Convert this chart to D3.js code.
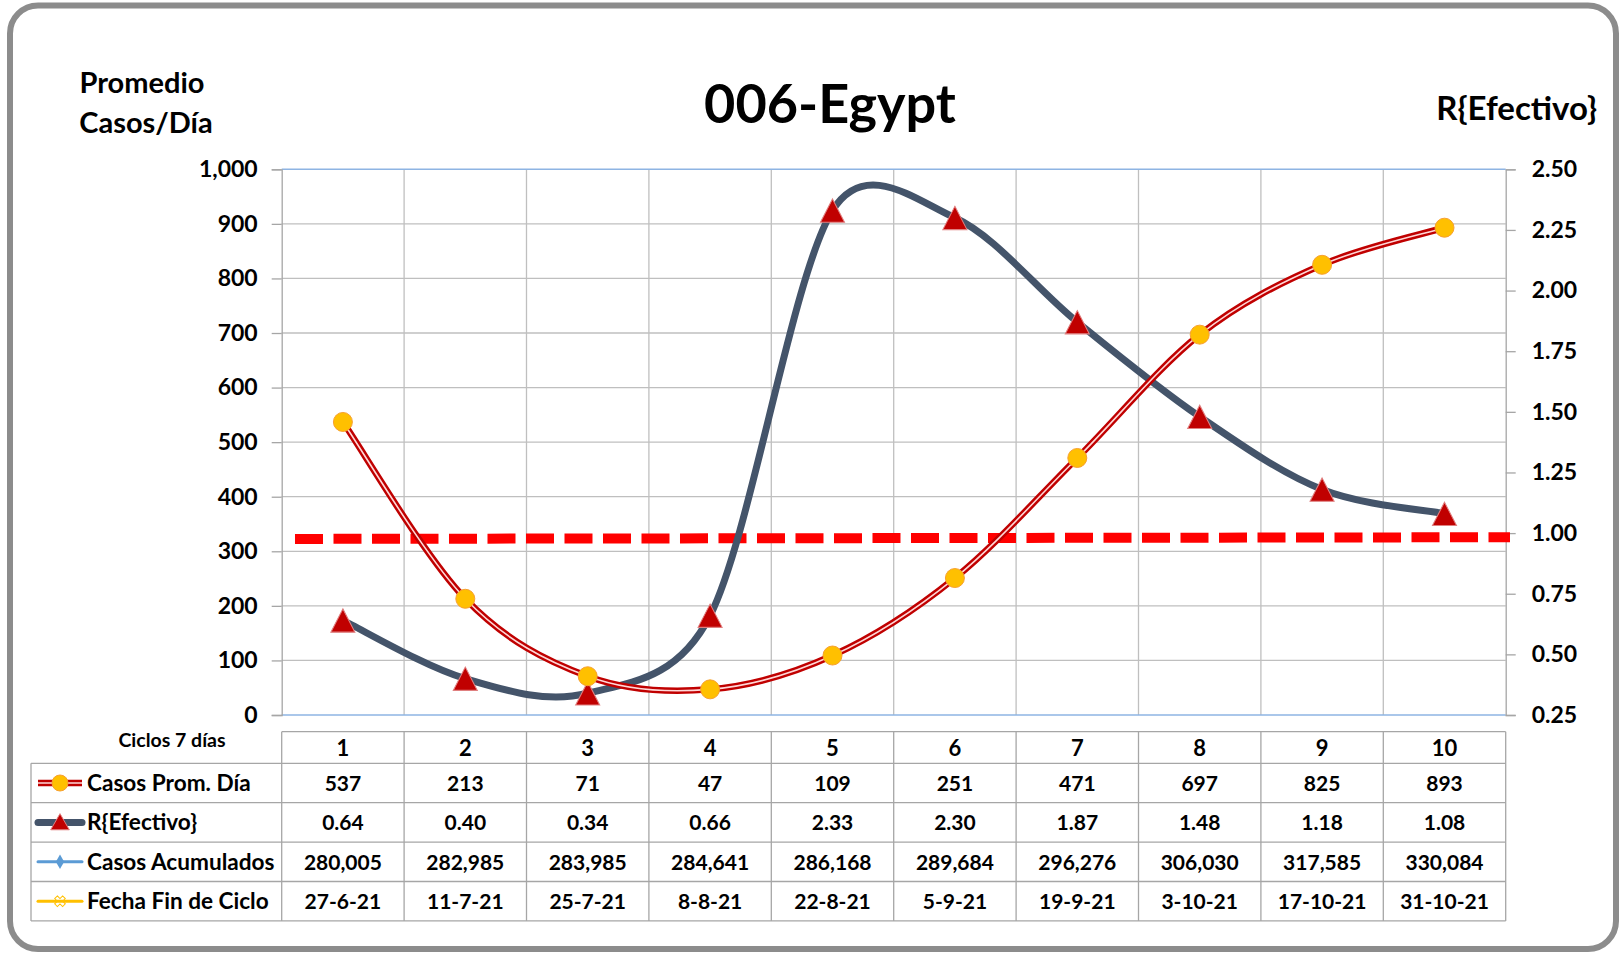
<!DOCTYPE html>
<html>
<head>
<meta charset="utf-8">
<script src="https://cdn.jsdelivr.net/npm/d3@7"></script>
<style>
  body { margin: 0; background: #fff; }
  svg text { font-family: Lato, "Open Sans", sans-serif; font-weight: bold; fill: #000; }
</style>
</head>
<body>
<svg id="chart" width="1619" height="956"></svg>
<script>
// chart values
const ciclos = [1, 2, 3, 4, 5, 6, 7, 8, 9, 10];
const casosProm = [537, 213, 71, 47, 109, 251, 471, 697, 825, 893];
const rEfectivo = [0.64, 0.40, 0.34, 0.66, 2.33, 2.30, 1.87, 1.48, 1.18, 1.08];
const casosAcum = [280005, 282985, 283985, 284641, 286168, 289684, 296276, 306030, 317585, 330084];
const fechaFin = ["27-6-21", "11-7-21", "25-7-21", "8-8-21", "22-8-21", "5-9-21", "19-9-21", "3-10-21", "17-10-21", "31-10-21"];
const leftTicks = [0, 100, 200, 300, 400, 500, 600, 700, 800, 900, 1000];
const rightTicks = [0.25, 0.50, 0.75, 1.00, 1.25, 1.50, 1.75, 2.00, 2.25, 2.50];
const rLimit = [0.976, 0.983]; // dashed R = 1 reference (left end, right end)
const seriesNames = ["Casos Prom. Día", "R{Efectivo}", "Casos Acumulados", "Fecha Fin de Ciclo"];

const svg = d3.select("#chart");

const plot = { left: 281.7, right: 1505.7, top: 169.3, bottom: 715 };

// frame
svg.append("rect")
    .attr("x", 10).attr("y", 5.5)
    .attr("width", 1606).attr("height", 943.5)
    .attr("rx", 28)
    .attr("fill", "#fff")
    .attr("stroke", "#8c8c8c")
    .attr("stroke-width", 6);

const x = d3.scaleBand()
    .domain(ciclos)
    .range([plot.left, plot.right]);
const cx = d => x(d) + x.bandwidth() / 2;

const yL = d3.scaleLinear().domain([0, 1000]).range([plot.bottom, plot.top]);
const yR = d3.scaleLinear().domain([0.25, 2.5]).range([plot.bottom, plot.top]);

// excel style smoothed line (bezier, control arm clamped to half the segment)
function smoothPath(pts) {
    const p = d3.path();
    const dist = (a, b) => Math.hypot(b[0] - a[0], b[1] - a[1]);
    p.moveTo(pts[0][0], pts[0][1]);
    for (let i = 0; i < pts.length - 1; i++) {
        const p0 = pts[i - 1] || pts[i], p1 = pts[i], p2 = pts[i + 1], p3 = pts[i + 2] || pts[i + 1];
        const d02 = dist(p0, p2), d12 = dist(p1, p2), d13 = dist(p1, p3);
        let f1 = 1 / 6, f2 = 1 / 6;
        if (d02 / 6 >= d12 / 2) f1 = d12 / d02 / 2;
        if (d13 / 6 >= d12 / 2) f2 = d12 / d13 / 2;
        p.bezierCurveTo(
            p1[0] + (p2[0] - p0[0]) * f1, p1[1] + (p2[1] - p0[1]) * f1,
            p2[0] - (p3[0] - p1[0]) * f2, p2[1] - (p3[1] - p1[1]) * f2,
            p2[0], p2[1]);
    }
    return p.toString();
}

// horizontal gridlines
svg.append("g")
    .selectAll("line")
    .data(leftTicks.slice(1, -1))
    .join("line")
    .attr("x1", plot.left).attr("x2", plot.right)
    .attr("y1", d => yL(d)).attr("y2", d => yL(d))
    .attr("stroke", "#bfbfbf").attr("stroke-width", 1.3);

// vertical gridlines (category boundaries)
svg.append("g")
    .selectAll("line")
    .data(ciclos.slice(1))
    .join("line")
    .attr("x1", d => x(d)).attr("x2", d => x(d))
    .attr("y1", plot.top).attr("y2", plot.bottom)
    .attr("stroke", "#bfbfbf").attr("stroke-width", 1.3);

// top and bottom blue lines
svg.append("g")
    .selectAll("line")
    .data([1000, 0])
    .join("line")
    .attr("x1", plot.left).attr("x2", plot.right)
    .attr("y1", d => yL(d)).attr("y2", d => yL(d))
    .attr("stroke", "#8eb4e3").attr("stroke-width", 1.5);

// left axis
const gL = svg.append("g")
    .attr("transform", `translate(${plot.left},0)`)
    .call(d3.axisLeft(yL).tickValues(leftTicks).tickSize(10).tickPadding(14).tickFormat(d3.format(",")));
gL.select(".domain").attr("stroke", "#a6a6a6").attr("stroke-width", 1.3);
gL.selectAll(".tick line").attr("stroke", "#a6a6a6").attr("stroke-width", 1.3);
gL.selectAll(".tick text").attr("font-size", 23).attr("font-family", null);

// right axis
const gR = svg.append("g")
    .attr("transform", `translate(${plot.right},0)`)
    .call(d3.axisRight(yR).tickValues(rightTicks).tickSize(10).tickPadding(16).tickFormat(d3.format(".2f")));
gR.select(".domain").attr("stroke", "#a6a6a6").attr("stroke-width", 1.3);
gR.selectAll(".tick line").attr("stroke", "#a6a6a6").attr("stroke-width", 1.3);
gR.selectAll(".tick text").attr("font-size", 23).attr("font-family", null);

// dashed R = 1 reference line
svg.append("line")
    .attr("x1", 295).attr("x2", 1510)
    .attr("y1", yR(rLimit[0])).attr("y2", yR(rLimit[1]))
    .attr("stroke", "#ff0000")
    .attr("stroke-width", 10)
    .attr("stroke-dasharray", "28 10.5");

// R{Efectivo} line
svg.append("path")
    .attr("d", smoothPath(rEfectivo.map((d, i) => [cx(ciclos[i]), yR(d)])))
    .attr("fill", "none")
    .attr("stroke", "#44546a")
    .attr("stroke-width", 7)
    .attr("stroke-linecap", "round");

// Casos Prom. Día line (double line)
const casosD = smoothPath(casosProm.map((d, i) => [cx(ciclos[i]), yL(d)]));
svg.append("path")
    .attr("d", casosD)
    .attr("fill", "none")
    .attr("stroke", "#c00000")
    .attr("stroke-width", 6.5);
svg.append("path")
    .attr("d", casosD)
    .attr("fill", "none")
    .attr("stroke", "#ffd7d7")
    .attr("stroke-width", 1.6);

// triangles (bounding box centred on the value)
const tri = d3.symbol().type(d3.symbolTriangle).size(250);
svg.append("g")
    .selectAll("path")
    .data(rEfectivo)
    .join("path")
    .attr("transform", (d, i) => `translate(${cx(ciclos[i])},${yR(d) + 4}) scale(1,1.12)`)
    .attr("d", tri)
    .attr("fill", "#c00000")
    .attr("stroke", "#e08080")
    .attr("stroke-width", 1);

// circles
svg.append("g")
    .selectAll("circle")
    .data(casosProm)
    .join("circle")
    .attr("cx", (d, i) => cx(ciclos[i]))
    .attr("cy", d => yL(d))
    .attr("r", 9.5)
    .attr("fill", "#ffc000")
    .attr("stroke", "#f7a030")
    .attr("stroke-width", 1);

// titles
svg.append("text")
    .attr("x", 830).attr("y", 123)
    .attr("text-anchor", "middle")
    .attr("font-size", 54)
    .text("006-Egypt");

svg.append("text")
    .attr("x", 142).attr("y", 93)
    .attr("text-anchor", "middle")
    .attr("font-size", 29)
    .text("Promedio");
svg.append("text")
    .attr("x", 146).attr("y", 133)
    .attr("text-anchor", "middle")
    .attr("font-size", 29)
    .text("Casos/Día");

svg.append("text")
    .attr("x", 1597).attr("y", 120)
    .attr("text-anchor", "end")
    .attr("font-size", 33)
    .text("R{Efectivo}");

// data table
const table = { left: 31, top: 731.7, headH: 31.6, rowH: 39.4 };
const rowsTop = table.top + table.headH;
const tableBottom = rowsTop + table.rowH * 4;
const tg = svg.append("g");
const gridColor = "#a6a6a6";

// header row box
tg.append("line")
    .attr("x1", plot.left).attr("x2", plot.right)
    .attr("y1", table.top).attr("y2", table.top)
    .attr("stroke", gridColor).attr("stroke-width", 1.3);
// row lines
tg.selectAll("line.row")
    .data(d3.range(5))
    .join("line")
    .attr("class", "row")
    .attr("x1", table.left).attr("x2", plot.right)
    .attr("y1", i => rowsTop + i * table.rowH).attr("y2", i => rowsTop + i * table.rowH)
    .attr("stroke", gridColor).attr("stroke-width", 1.3);
// column lines
tg.selectAll("line.col")
    .data(ciclos.map(d => x(d)).concat([plot.right]))
    .join("line")
    .attr("class", "col")
    .attr("x1", d => d).attr("x2", d => d)
    .attr("y1", table.top).attr("y2", tableBottom)
    .attr("stroke", gridColor).attr("stroke-width", 1.3);
tg.append("line")
    .attr("x1", table.left).attr("x2", table.left)
    .attr("y1", rowsTop).attr("y2", tableBottom)
    .attr("stroke", gridColor).attr("stroke-width", 1.3);

tg.append("text")
    .attr("x", 172).attr("y", 747)
    .attr("text-anchor", "middle")
    .attr("font-size", 19.5)
    .text("Ciclos 7 días");

tg.selectAll("text.head")
    .data(ciclos)
    .join("text")
    .attr("class", "head")
    .attr("x", d => cx(d))
    .attr("y", table.top + table.headH / 2 + 8)
    .attr("text-anchor", "middle")
    .attr("font-size", 22)
    .text(d => d);

const rowValues = [
    casosProm.map(d3.format(",")),
    rEfectivo.map(d3.format(".2f")),
    casosAcum.map(d3.format(",")),
    fechaFin
];

rowValues.forEach((vals, r) => {
    const yMid = rowsTop + table.rowH * (r + 0.5);
    tg.append("g")
        .selectAll("text")
        .data(vals)
        .join("text")
        .attr("x", (d, i) => cx(ciclos[i]))
        .attr("y", yMid + 8)
        .attr("text-anchor", "middle")
        .attr("font-size", 21)
        .text(d => d);
    tg.append("text")
        .attr("x", 87).attr("y", yMid + 8)
        .attr("font-size", 22.6)
        .text(seriesNames[r]);
});

// legend keys
const keyY = r => rowsTop + table.rowH * (r + 0.5);
// Casos Prom. Día
tg.append("line").attr("x1", 38).attr("x2", 82).attr("y1", keyY(0)).attr("y2", keyY(0))
    .attr("stroke", "#c00000").attr("stroke-width", 6.5);
tg.append("line").attr("x1", 38).attr("x2", 82).attr("y1", keyY(0)).attr("y2", keyY(0))
    .attr("stroke", "#ffd7d7").attr("stroke-width", 1.6);
tg.append("circle").attr("cx", 60).attr("cy", keyY(0)).attr("r", 8)
    .attr("fill", "#ffc000").attr("stroke", "#f7a030");
// R{Efectivo}
tg.append("line").attr("x1", 38).attr("x2", 82).attr("y1", keyY(1)).attr("y2", keyY(1))
    .attr("stroke", "#44546a").attr("stroke-width", 7).attr("stroke-linecap", "round");
tg.append("path").attr("transform", `translate(60,${keyY(1) + 2})`)
    .attr("d", d3.symbol().type(d3.symbolTriangle).size(150))
    .attr("fill", "#c00000").attr("stroke", "#e08080");
// Casos Acumulados
tg.append("line").attr("x1", 38).attr("x2", 82).attr("y1", keyY(2)).attr("y2", keyY(2))
    .attr("stroke", "#5b9bd5").attr("stroke-width", 3).attr("stroke-linecap", "round");
tg.append("path").attr("transform", `translate(60,${keyY(2)})`)
    .attr("d", d3.symbol().type(d3.symbolDiamond).size(60))
    .attr("fill", "#5b9bd5");
// Fecha Fin de Ciclo
tg.append("line").attr("x1", 38).attr("x2", 82).attr("y1", keyY(3)).attr("y2", keyY(3))
    .attr("stroke", "#ffc000").attr("stroke-width", 3).attr("stroke-linecap", "round");
tg.append("path").attr("transform", `translate(60,${keyY(3)}) rotate(45)`)
    .attr("d", d3.symbol().type(d3.symbolCross).size(70))
    .attr("fill", "none").attr("stroke", "#ffc000").attr("stroke-width", 1);
</script>
</body>
</html>
